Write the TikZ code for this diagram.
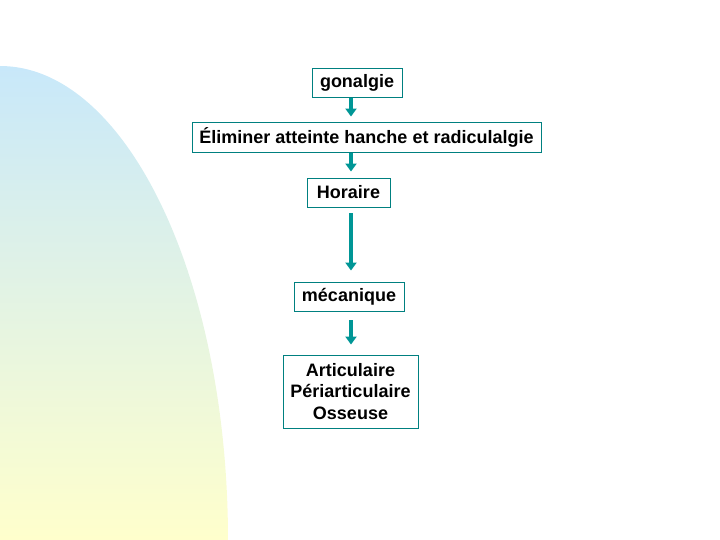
\documentclass[tikz,border=0pt]{standalone}
\usepackage{fontspec}
\setmainfont{Liberation Sans}
\usetikzlibrary{arrows.meta}

\definecolor{boxline}{RGB}{0,128,128}
\definecolor{arrowteal}{RGB}{0,150,150}
\definecolor{skyblue}{RGB}{200,232,250}
\definecolor{paleyellow}{RGB}{255,255,204}

\tikzset{
  stagebox/.style={draw=boxline, line width=0.9pt, fill=white, inner sep=1pt,
    font=\fontsize{18}{21.5}\selectfont\bfseries, align=center},
  flowarrow/.style={arrowteal, line width=4pt,
    -{Triangle[width=11pt,length=8pt]}}
}

\begin{document}
\begin{tikzpicture}[x=1pt, y=-1pt]
      % frame of the slide
      \useasboundingbox (0,0) rectangle (720,540);

      % coloured leaf on the left
      \shade[top color=skyblue, bottom color=paleyellow]
        (0,540) -- (0,66) arc[start angle=-90, end angle=0, x radius=228, y radius=474] -- cycle;

      % the stages
      \node[stagebox, minimum width=90, minimum height=29] (gonalgie) at (357,82.5) {gonalgie};
      \node[stagebox, minimum width=349, minimum height=30] (eliminer) at (366.5,137) {Éliminer atteinte hanche et radiculalgie};
      \node[stagebox, minimum width=83, minimum height=29] (horaire) at (348.5,192.5) {Horaire};
      \node[stagebox, minimum width=110, minimum height=29] (mecanique) at (349,296.5) {mécanique};
      \node[stagebox, minimum width=135, minimum height=73] (lesions) at (350.5,391.5) {Articulaire\\Périarticulaire\\Osseuse};

      % arrows all run on the same vertical line
      \coordinate (spine) at (351,0);
      \draw[flowarrow, shorten <=1, shorten >=5] (gonalgie.south -| spine) -- (eliminer.north -| spine);
      \draw[flowarrow, shorten <=1, shorten >=6] (eliminer.south -| spine) -- (horaire.north -| spine);
      \draw[flowarrow, shorten <=6, shorten >=11] (horaire.south -| spine) -- (mecanique.north -| spine);
      \draw[flowarrow, shorten <=9, shorten >=10] (mecanique.south -| spine) -- (lesions.north -| spine);
    \end{tikzpicture}
\end{document}
